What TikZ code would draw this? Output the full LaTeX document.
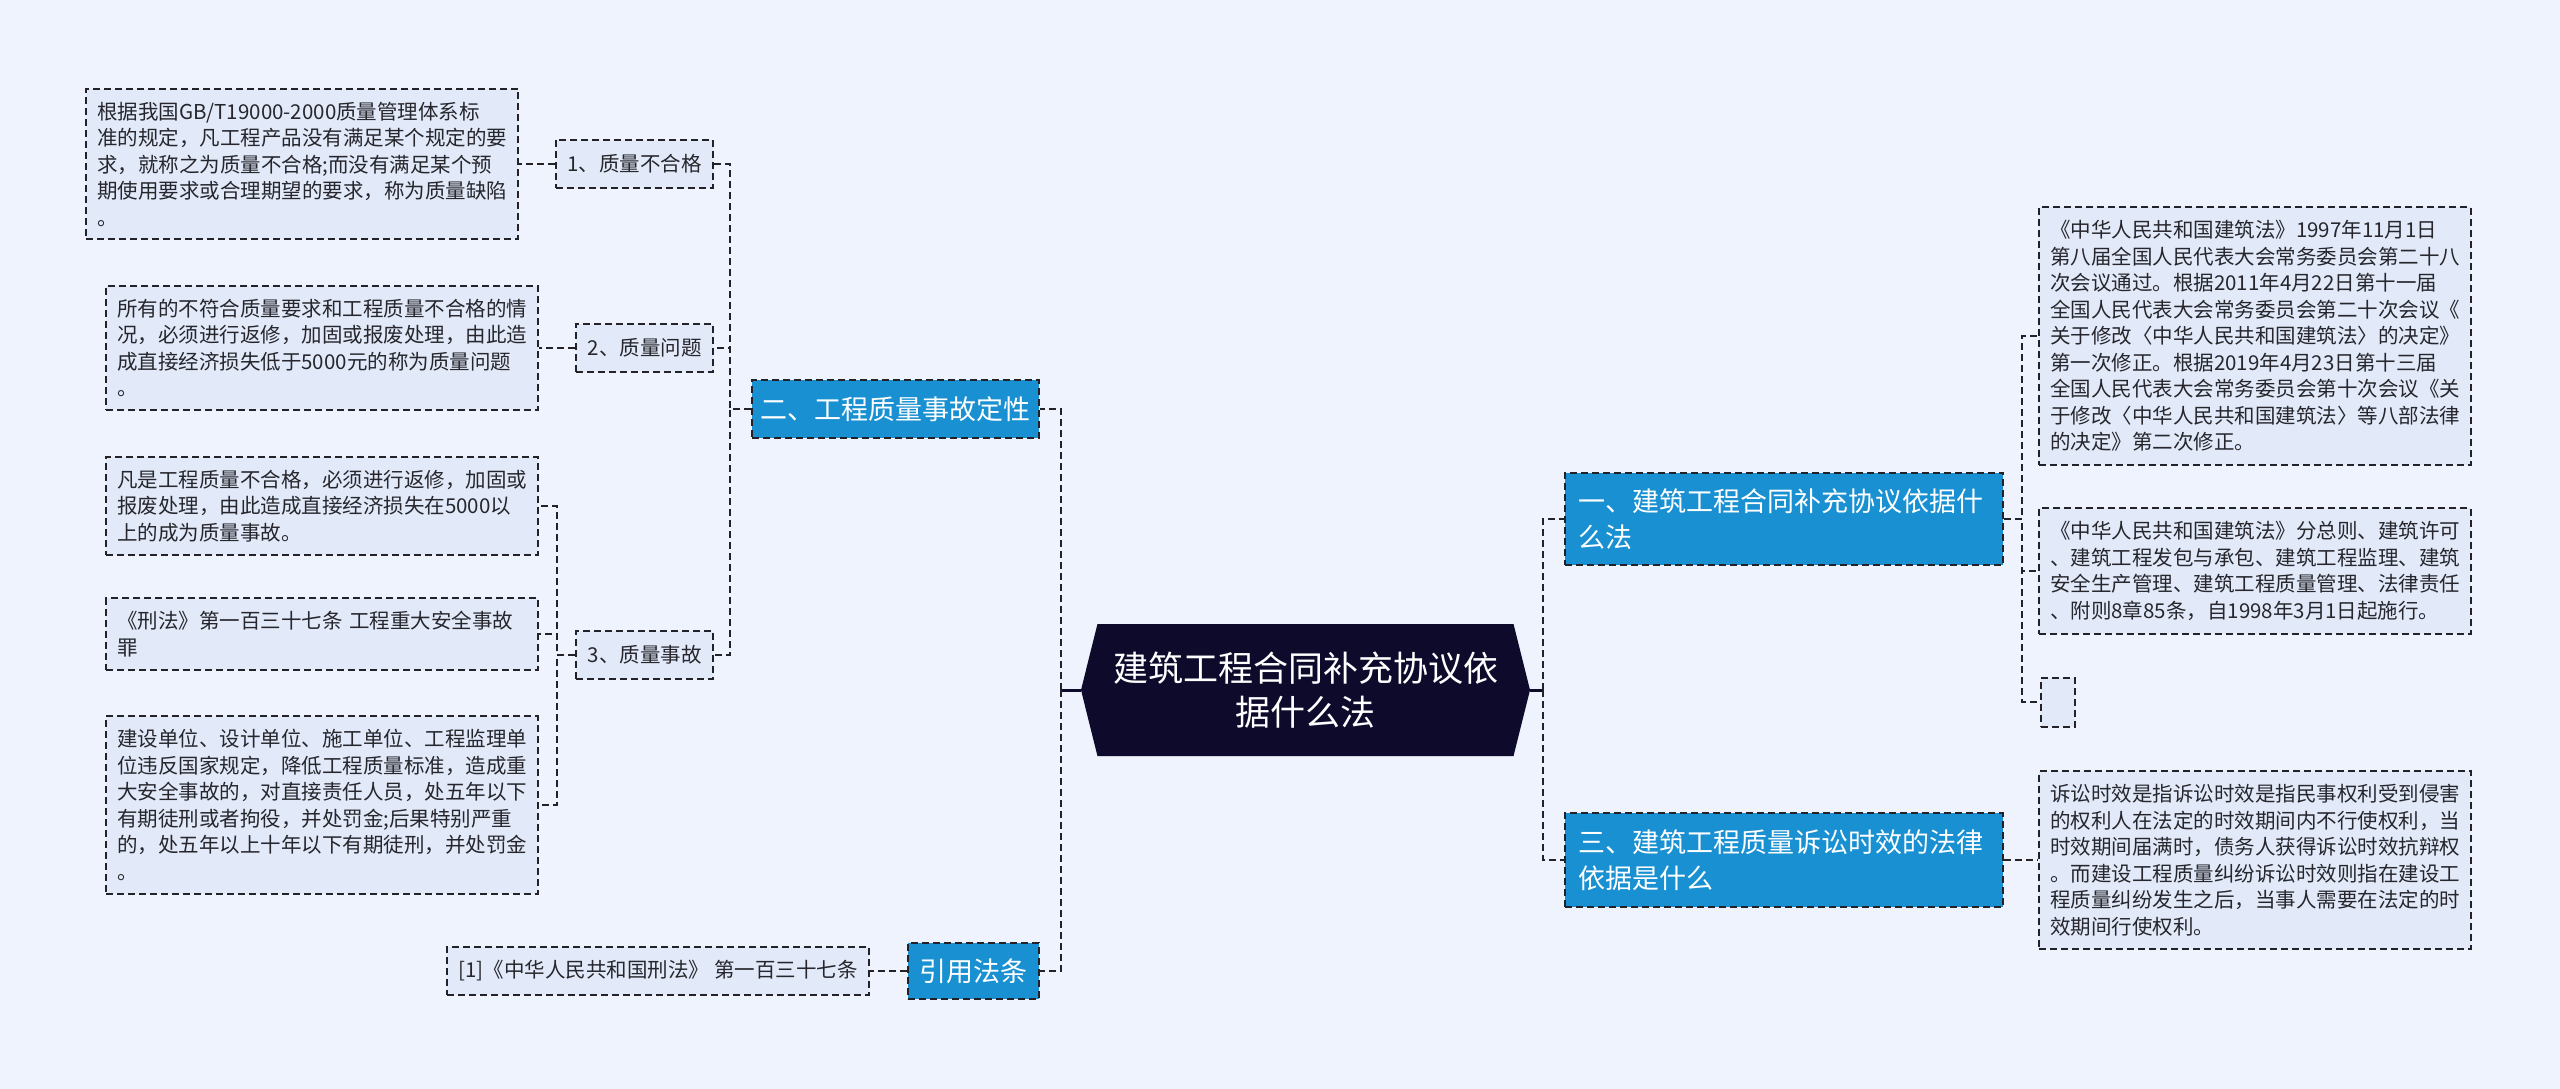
\documentclass[tikz,border=0pt]{standalone}
\usepackage{fontspec}
\setmainfont{Noto Sans CJK SC}
\usetikzlibrary{shapes.symbols}
\definecolor{bgc}{RGB}{238,243,253}
\definecolor{leafc}{RGB}{226,234,250}
\definecolor{bluec}{RGB}{24,144,210}
\definecolor{rootc}{RGB}{13,10,44}
\definecolor{linec}{RGB}{34,34,40}
\definecolor{textc}{RGB}{38,38,44}

\begin{document}
\begin{tikzpicture}[x=1pt,y=-1pt]

\tikzstyle{link} = [-,line width=2pt,dash pattern=on 7pt off 4pt,draw=linec];
\tikzstyle{stem} = [-,line width=3pt,draw=rootc];
\tikzstyle{root} = [signal,signal to=west and east,signal pointer angle=152,fill=rootc,text=white,minimum width=449pt,minimum height=132pt,inner sep=0pt,align=center,font=\fontsize{35}{44}\selectfont];
\tikzstyle{topic} = [rectangle,link,fill=bluec,text=white,inner xsep=13pt,inner ysep=16pt,align=left,font=\fontsize{27}{36}\selectfont];
\tikzstyle{item} = [rectangle,link,fill=leafc,text=textc,inner xsep=11.5pt,inner ysep=0pt,minimum height=48pt,font=\fontsize{20.5}{26.5}\selectfont];
\tikzstyle{leaf} = [rectangle,link,fill=leafc,text=textc,text width=410pt,inner xsep=11pt,inner ysep=13pt,align=left,font=\fontsize{20.5}{26.5}\selectfont];

\fill[bgc] (0,0) rectangle (2560,1089);
\useasboundingbox (0,0) rectangle (2560,1089);

% centre
\node[root] at (1305.5,690) (root) {建筑工程合同补充协议依\\据什么法};

% left half
\node[topic,anchor=east,minimum width=287pt,minimum height=58pt,inner xsep=7pt,inner ysep=0pt] at (1040,409) (sec2) {二、工程质量事故定性};
\node[topic,anchor=east,minimum width=131pt,minimum height=56pt,inner xsep=9pt,inner ysep=0pt] at (1040,971) (cite) {引用法条};
\node[item,anchor=east] at (870,971) (citeleaf) {[1]《中华人民共和国刑法》 第一百三十七条};

\node[item,anchor=east] at (714,164) (q1) {1、质量不合格};
\node[item,anchor=east] at (714,348) (q2) {2、质量问题};
\node[item,anchor=east] at (714,655) (q3) {3、质量事故};

\node[leaf,anchor=east] at (519,164) (t1) {根据我国GB/T19000-2000质量管理体系标\\准的规定，凡工程产品没有满足某个规定的要\\求，就称之为质量不合格;而没有满足某个预\\期使用要求或合理期望的要求，称为质量缺陷\\。};
\node[leaf,anchor=east] at (539,348) (t2) {所有的不符合质量要求和工程质量不合格的情\\况，必须进行返修，加固或报废处理，由此造\\成直接经济损失低于5000元的称为质量问题\\。};
\node[leaf,anchor=east] at (539,506) (t3a) {凡是工程质量不合格，必须进行返修，加固或\\报废处理，由此造成直接经济损失在5000以\\上的成为质量事故。};
\node[leaf,anchor=east] at (539,634) (t3b) {《刑法》第一百三十七条 工程重大安全事故\\罪};
\node[leaf,anchor=east] at (539,805) (t3c) {建设单位、设计单位、施工单位、工程监理单\\位违反国家规定，降低工程质量标准，造成重\\大安全事故的，对直接责任人员，处五年以下\\有期徒刑或者拘役，并处罚金;后果特别严重\\的，处五年以上十年以下有期徒刑，并处罚金\\。};

% right half
\node[topic,anchor=west,text width=412pt] at (1564,519) (sec1) {一、建筑工程合同补充协议依据什\\么法};
\node[topic,anchor=west,text width=412pt] at (1564,860) (sec3) {三、建筑工程质量诉讼时效的法律\\依据是什么};

\node[leaf,anchor=west] at (2038,336) (r1a) {《中华人民共和国建筑法》1997年11月1日\\第八届全国人民代表大会常务委员会第二十八\\次会议通过。根据2011年4月22日第十一届\\全国人民代表大会常务委员会第二十次会议《\\关于修改〈中华人民共和国建筑法〉的决定》\\第一次修正。根据2019年4月23日第十三届\\全国人民代表大会常务委员会第十次会议《关\\于修改〈中华人民共和国建筑法〉等八部法律\\的决定》第二次修正。};
\node[leaf,anchor=west] at (2038,571) (r1b) {《中华人民共和国建筑法》分总则、建筑许可\\、建筑工程发包与承包、建筑工程监理、建筑\\安全生产管理、建筑工程质量管理、法律责任\\、附则8章85条，自1998年3月1日起施行。};
\node[leaf,anchor=west,text width=12pt,minimum height=49pt,inner ysep=0pt] at (2040,702) (r1c) {};
\node[leaf,anchor=west] at (2038,860) (r3a) {诉讼时效是指诉讼时效是指民事权利受到侵害\\的权利人在法定的时效期间内不行使权利，当\\时效期间届满时，债务人获得诉讼时效抗辩权\\。而建设工程质量纠纷诉讼时效则指在建设工\\程质量纠纷发生之后，当事人需要在法定的时\\效期间行使权利。};

% connectors
\draw[stem] (root.west) -- ++(-20,0) coordinate (lj);
\draw[link] (lj) |- (sec2.east);
\draw[link] (lj) |- (cite.east);
\draw[stem] (root.east) -- ++(13,0) coordinate (rj);
\draw[link] (rj) |- (sec1.west);
\draw[link] (rj) |- (sec3.west);

\draw[link] (sec2.west) -- ++(-21,0) |- (q1.east);
\draw[link] (sec2.west) -- ++(-21,0) |- (q2.east);
\draw[link] (sec2.west) -- ++(-21,0) |- (q3.east);
\path (q1) edge[link] (t1);
\path (q2) edge[link] (t2);
\draw[link] (q3.west) -- ++(-18,0) |- (t3a.east);
\draw[link] (q3.west) -- ++(-18,0) |- (t3b.east);
\draw[link] (q3.west) -- ++(-18,0) |- (t3c.east);
\path (cite) edge[link] (citeleaf);

\draw[link] (sec1.east) -- ++(18,0) |- (r1a.west);
\draw[link] (sec1.east) -- ++(18,0) |- (r1b.west);
\draw[link] (sec1.east) -- ++(18,0) |- (r1c.west);
\path (sec3) edge[link] (r3a);

\end{tikzpicture}
\end{document}
